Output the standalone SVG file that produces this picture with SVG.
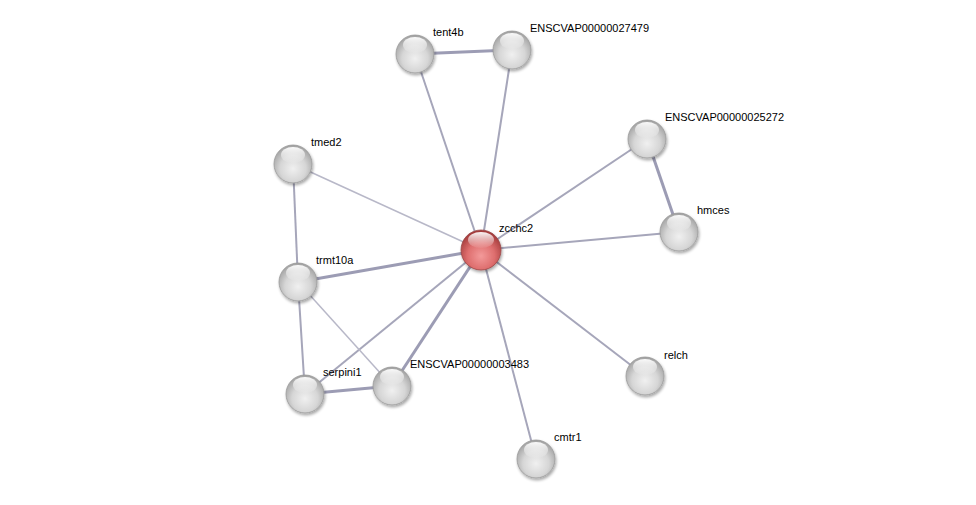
<svg xmlns="http://www.w3.org/2000/svg" width="976" height="505" viewBox="0 0 976 505">
<defs>
<radialGradient id="gGray" cx="0.5" cy="0.62" r="0.62">
<stop offset="0" stop-color="#f0f0f0"/>
<stop offset="0.55" stop-color="#d6d6d6"/>
<stop offset="1" stop-color="#9e9e9e"/>
</radialGradient>
<radialGradient id="gRed" cx="0.5" cy="0.65" r="0.62">
<stop offset="0" stop-color="#f39a9a"/>
<stop offset="0.55" stop-color="#de6e6e"/>
<stop offset="1" stop-color="#a33a3a"/>
</radialGradient>
<linearGradient id="hl" x1="0" y1="0" x2="0" y2="1">
<stop offset="0" stop-color="#ffffff" stop-opacity="0.95"/>
<stop offset="1" stop-color="#ffffff" stop-opacity="0.05"/>
</linearGradient>
<filter id="sh" x="-30%" y="-30%" width="160%" height="160%">
<feGaussianBlur in="SourceAlpha" stdDeviation="1.5"/>
<feOffset dx="1" dy="2" result="b"/>
<feComponentTransfer><feFuncA type="linear" slope="0.35"/></feComponentTransfer>
<feMerge><feMergeNode/><feMergeNode in="SourceGraphic"/></feMerge>
</filter>
</defs>
<style>
.e{stroke:#a6a6ba;stroke-width:2;fill:none}
.e2{stroke:#9c9cb4;stroke-width:3;fill:none}
.e1{stroke:#b8b8c8;stroke-width:1.5;fill:none}
.n circle.b{fill:url(#gGray);stroke:#9a9a9a;stroke-width:0.8}
.r circle.b{fill:url(#gRed);stroke:#9a4a4a;stroke-width:0.8}
circle.b{filter:url(#sh)}
.hl{fill:url(#hl)}
text{font-family:"Liberation Sans",Arial,sans-serif;font-size:11px;fill:#000}
</style>
<rect width="976" height="505" fill="#fff"/>
<g id="edges">
<line class="e" x1="481" y1="250" x2="415" y2="54"/>
<line class="e" x1="481" y1="250" x2="512" y2="50"/>
<line class="e1" x1="481" y1="250" x2="293" y2="164"/>
<line class="e2" x1="481" y1="250" x2="298" y2="282"/>
<line class="e" x1="481" y1="250" x2="305" y2="394"/>
<line class="e2" x1="481" y1="250" x2="392" y2="386"/>
<line class="e" x1="481" y1="250" x2="647" y2="139"/>
<line class="e" x1="481" y1="250" x2="679" y2="232"/>
<line class="e" x1="481" y1="250" x2="645" y2="376"/>
<line class="e" x1="481" y1="250" x2="536" y2="459"/>
<line class="e2" x1="415" y1="54" x2="512" y2="50"/>
<line class="e2" x1="647" y1="139" x2="679" y2="232"/>
<line class="e" x1="293" y1="164" x2="298" y2="282"/>
<line class="e" x1="298" y1="282" x2="305" y2="394"/>
<line class="e1" x1="298" y1="282" x2="392" y2="386"/>
<line class="e2" x1="305" y1="394" x2="392" y2="386"/>
</g>
<g id="tent4b" class="n"><circle class="b" cx="415" cy="54" r="19"/><ellipse class="hl" cx="415" cy="45" rx="12" ry="8"/><text x="433" y="36">tent4b</text></g>
<g id="ENSCVAP00000027479" class="n"><circle class="b" cx="512" cy="50" r="19"/><ellipse class="hl" cx="512" cy="41" rx="12" ry="8"/><text x="530" y="32">ENSCVAP00000027479</text></g>
<g id="ENSCVAP00000025272" class="n"><circle class="b" cx="647" cy="139" r="19"/><ellipse class="hl" cx="647" cy="130" rx="12" ry="8"/><text x="665" y="121">ENSCVAP00000025272</text></g>
<g id="tmed2" class="n"><circle class="b" cx="293" cy="164" r="19"/><ellipse class="hl" cx="293" cy="155" rx="12" ry="8"/><text x="311" y="146">tmed2</text></g>
<g id="hmces" class="n"><circle class="b" cx="679" cy="232" r="19"/><ellipse class="hl" cx="679" cy="223" rx="12" ry="8"/><text x="697" y="214">hmces</text></g>
<g id="trmt10a" class="n"><circle class="b" cx="298" cy="282" r="19"/><ellipse class="hl" cx="298" cy="273" rx="12" ry="8"/><text x="316" y="264">trmt10a</text></g>
<g id="serpini1" class="n"><circle class="b" cx="305" cy="394" r="19"/><ellipse class="hl" cx="305" cy="385" rx="12" ry="8"/><text x="323" y="376">serpini1</text></g>
<g id="ENSCVAP00000003483" class="n"><circle class="b" cx="392" cy="386" r="19"/><ellipse class="hl" cx="392" cy="377" rx="12" ry="8"/><text x="410" y="368">ENSCVAP00000003483</text></g>
<g id="relch" class="n"><circle class="b" cx="645" cy="376" r="19"/><ellipse class="hl" cx="645" cy="367" rx="12" ry="8"/><text x="664" y="359">relch</text></g>
<g id="cmtr1" class="n"><circle class="b" cx="536" cy="459" r="19"/><ellipse class="hl" cx="536" cy="450" rx="12" ry="8"/><text x="554" y="441">cmtr1</text></g>
<g id="zcchc2" class="r"><circle class="b" cx="481" cy="250" r="20"/><ellipse class="hl" cx="481" cy="240" rx="13" ry="8"/><text x="499" y="232">zcchc2</text></g>
</svg>
